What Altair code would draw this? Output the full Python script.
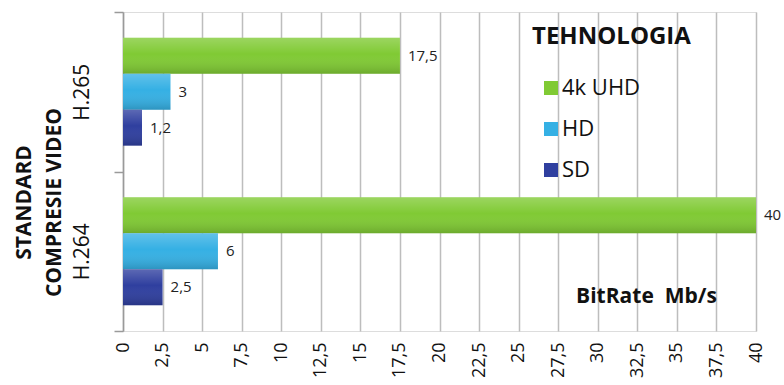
import altair as alt
import pandas as pd

# Bitrate needed per video compression standard and resolution class (Mb/s)
standards = ["H.265", "H.264"]
technologies = ["4k UHD", "HD", "SD"]
h265_values = [17.5, 3, 1.2]
h264_values = [40, 6, 2.5]
x_ticks = [0, 2.5, 5, 7.5, 10, 12.5, 15, 17.5, 20, 22.5, 25, 27.5, 30, 32.5, 35, 37.5, 40]
tech_colors = ["#80ca34", "#35b0e4", "#2f3f9f"]

rows = []
for std, vals in zip(standards, [h265_values, h264_values]):
    for tech, v in zip(technologies, vals):
        rows.append({"standard": std, "tech": tech, "value": v})
df = pd.DataFrame(rows)

FONT = "Open Sans"

base = alt.Chart(df).encode(
    y=alt.Y(
        "standard:N",
        sort=standards,
        scale=alt.Scale(paddingInner=0, paddingOuter=0),
        axis=alt.Axis(
            title=["STANDARD", "COMPRESIE VIDEO"],
            titleAngle=270,
            titleX=-99,
            titleY=190,
            titleAlign="center",
            titleBaseline="middle",
            titleFontSize=21,
            titleFontWeight="bold",
            titleLineHeight=30,
            titleColor="#111111",
            labelAngle=270,
            labelAlign="center",
            labelBaseline="alphabetic",
            labelFontSize=21,
            labelPadding=26,
            labelColor="#111111",
            tickBand="extent",
            tickSize=9,
            tickColor="#9a9a9a",
            domainColor="#9a9a9a",
            domainWidth=1.5,
            tickWidth=1.5,
            grid=False,
        ),
    ),
    yOffset=alt.YOffset(
        "tech:N",
        sort=technologies,
        scale=alt.Scale(domain=technologies, paddingInner=0, paddingOuter=0.72),
    ),
    x=alt.X(
        "value:Q",
        scale=alt.Scale(domain=[0, 40], nice=False, zero=True),
        axis=alt.Axis(
            values=x_ticks,
            labelExpr="replace(format(datum.value, '~g'), '.', ',')",
            labelAngle=270,
            labelAlign="right",
            labelBaseline="middle",
            labelFontSize=18,
            labelPadding=11,
            labelColor="#111111",
            ticks=False,
            domain=False,
            grid=True,
            gridColor="#bdbdbd",
            gridWidth=1.5,
            title="BitRate\u00a0\u00a0Mb/s",
            titleX=523,
            titleY=-35,
            titleAlign="center",
            titleBaseline="middle",
            titleFontSize=21,
            titleFontWeight="bold",
            titleColor="#111111",
        ),
    ),
)

bars = base.mark_bar().encode(
    color=alt.Color(
        "tech:N",
        sort=technologies,
        scale=alt.Scale(domain=technologies, range=tech_colors),
        legend=alt.Legend(
            title="TEHNOLOGIA",
            orient="none",
            legendX=409,
            legendY=13,
            padding=0,
            titleFontSize=24,
            titleFontWeight="bold",
            titleColor="#111111",
            titlePadding=28,
            labelFontSize=22,
            labelColor="#111111",
            labelOffset=0,
            symbolType="square",
            symbolSize=196,
            symbolStrokeWidth=0,
            symbolOffset=8,
            rowPadding=19,
        ),
    )
)

# soft vertical shading over each bar
shade = base.mark_bar(
    fill=alt.Gradient(
        gradient="linear",
        x1=0, y1=0, x2=0, y2=1,
        stops=[
            alt.GradientStop(color="rgba(255,255,255,0.22)", offset=0),
            alt.GradientStop(color="rgba(255,255,255,0.0)", offset=0.45),
            alt.GradientStop(color="rgba(0,0,0,0.16)", offset=1),
        ],
    )
)

value_labels = base.mark_text(
    align="left", baseline="middle", dx=8, fontSize=15, color="#222222"
).encode(text="label:N").transform_calculate(
    label="replace(format(datum.value, '~g'), '.', ',')"
)

chart = (
    alt.layer(bars, shade, value_labels)
    .properties(
        width=633,
        height=319,
        padding={"left": 123, "top": 12, "right": 28, "bottom": 54},
        autosize=alt.AutoSizeParams(type="none"),
        background="white",
    )
    .configure_view(stroke=None)
    .configure(font=FONT)
)

chart.save("out.html", embed_options={"renderer": "svg", "actions": False})
